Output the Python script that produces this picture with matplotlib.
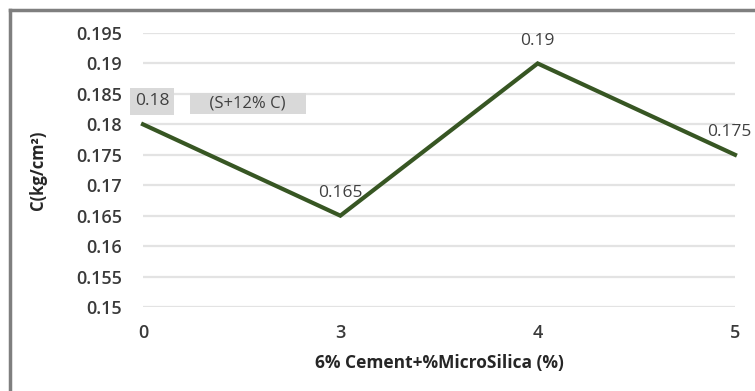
import matplotlib
matplotlib.use("Agg")
import matplotlib.pyplot as plt
from matplotlib.lines import Line2D

# Data
categories = ["0", "3", "4", "5"]
values = [0.18, 0.165, 0.19, 0.175]
y_ticks = [0.15, 0.155, 0.16, 0.165, 0.17, 0.175, 0.18, 0.185, 0.19, 0.195]
x_label = "6% Cement+%MicroSilica (%)"
y_label = "C(kg/cm²)"
note = "(S+12% C)"

plt.rcParams['font.family'] = ['Open Sans', 'DejaVu Sans']

W, H = 755, 391
fig = plt.figure(figsize=(W / 100, H / 100), dpi=100)
ax = fig.add_axes([143 / W, 1 - 307 / H, (735 - 143) / W, (307 - 33) / H])

x = list(range(len(categories)))
ax.plot(x, values, color="#375623", lw=3.0, solid_joinstyle="miter", zorder=3, clip_on=False)

ax.set_xlim(0, len(categories) - 1)
ax.set_ylim(min(y_ticks), max(y_ticks))
ax.set_yticks(y_ticks)
ax.set_yticklabels([f"{t:g}" for t in y_ticks])
ax.set_xticks(x)
ax.set_xticklabels(categories)

ax.grid(axis="y", color="#e3e3e3", lw=1.6)
ax.set_axisbelow(True)
for s in ax.spines.values():
    s.set_visible(False)
ax.tick_params(axis="both", length=0, labelsize=13, colors="#3a3a3a")
ax.tick_params(axis="y", pad=15)
ax.tick_params(axis="x", pad=12)
for lab in ax.get_xticklabels() + ax.get_yticklabels():
    lab.set_fontweight("semibold")

ax.set_xlabel(x_label, fontsize=12.5, fontweight="bold", color="#262626", va="center")
ax.set_ylabel(y_label, fontsize=12, fontweight="bold", color="#262626", va="center")
ax.xaxis.set_label_coords(0.5, (307 - 363) / 274)
ax.yaxis.set_label_coords((38 - 143) / 592, 0.5)

# Data labels (offsets in points)
label_dx = [6.5, 0, 0, -4]
for i, v in enumerate(values):
    kw = dict(textcoords="offset points", ha="center", va="center",
              fontsize=12.5, color="#404040", annotation_clip=False)
    if i == 0:
        kw["bbox"] = dict(boxstyle="square,pad=0.3", facecolor="#d9d9d9", edgecolor="none")
    ax.annotate(f"{v:g}", (i, v), xytext=(label_dx[i], 16.5), **kw)
ax.annotate("    " + note + "    ", (0, values[0]), xytext=(75.5, 14.8), textcoords="offset points",
            ha="center", va="center", fontsize=12, color="#404040",
            bbox=dict(boxstyle="square,pad=0.15", facecolor="#d9d9d9", edgecolor="none"))

# Outer chart frame (left and top edges)
fig.add_artist(Line2D([10 / W, 10 / W], [0, 1 - 10 / H], transform=fig.transFigure,
                      color="#7f7f7f", lw=2.5))
fig.add_artist(Line2D([10 / W, 1], [1 - 10 / H, 1 - 10 / H], transform=fig.transFigure,
                      color="#7f7f7f", lw=2.5))

fig.savefig("out.png", dpi=100)
